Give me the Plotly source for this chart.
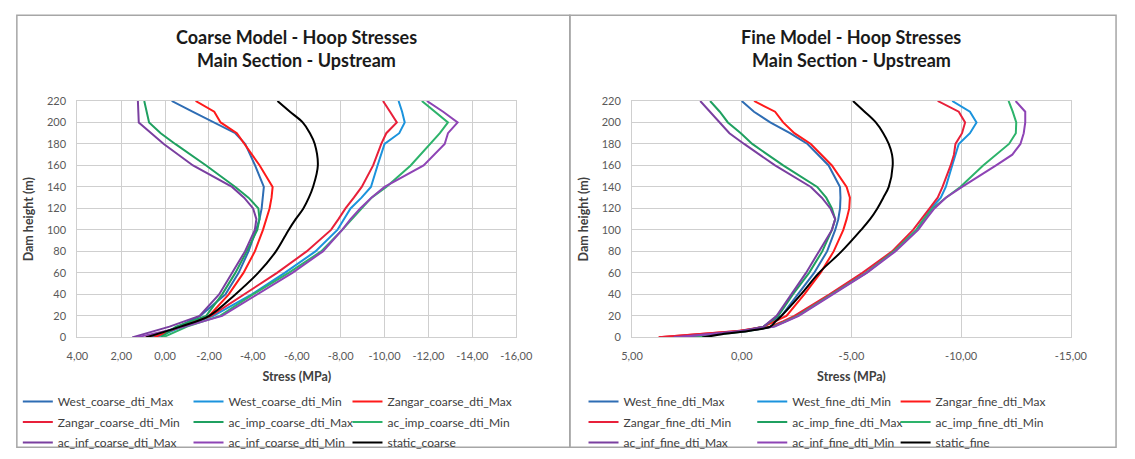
import plotly.graph_objects as go

FIG_W, FIG_H = 1135, 459
FONT = "Lato"

# ---------------- Coarse model (heights in m, stresses in MPa) ----------------
heights_coarse = [0, 10, 20, 40, 60, 80, 100, 110, 120, 130, 140, 160, 180, 190, 200, 210, 220]

west_coarse_max = [0.65, -0.6, -1.6, -2.75, -3.35, -3.8, -4.15, -4.3, -4.4, -4.45, -4.5, -4.1, -3.65, -3.2, -2.2, -1.25, -0.3]
west_coarse_min = [0.4, -0.8, -2.2, -3.95, -5.45, -6.85, -7.85, -8.15, -8.45, -8.95, -9.38, -9.68, -10.0, -10.67, -10.92, -10.8, -10.64]
zangar_coarse_max = [0.5, -0.7, -2.0, -2.9, -3.57, -4.09, -4.46, -4.6, -4.76, -4.85, -4.9, -4.31, -3.64, -3.27, -2.53, -2.24, -1.39]
zangar_coarse_min = [0.9, -0.8, -2.1, -3.6, -5.1, -6.45, -7.56, -7.9, -8.22, -8.6, -8.96, -9.48, -9.85, -10.08, -10.56, -10.25, -9.93]
acimp_coarse_max = [0.2, -0.5, -1.87, -2.6, -3.2, -3.72, -4.2, -4.3, -4.25, -3.8, -3.2, -1.87, -0.46, 0.2, 0.73, 0.85, 0.95]
acimp_coarse_min = [0.1, -1.0, -2.5, -4.0, -5.63, -7.11, -8.07, -8.5, -8.96, -9.41, -10.08, -11.19, -12.07, -12.52, -12.89, -12.3, -11.7]
acinf_coarse_max = [1.5, -0.2, -1.57, -2.46, -3.05, -3.64, -4.09, -4.16, -4.01, -3.6, -3.05, -1.27, 0.06, 0.65, 1.2, 1.22, 1.24]
acinf_coarse_min = [1.3, -0.9, -2.6, -4.2, -5.8, -7.19, -8.07, -8.45, -8.89, -9.4, -10.0, -11.78, -12.74, -12.89, -13.33, -12.67, -11.93]
static_coarse = [0.87, -0.7, -2.01, -3.2, -4.24, -5.05, -5.63, -5.95, -6.3, -6.55, -6.74, -6.96, -6.82, -6.6, -6.27, -5.69, -5.12]

# ---------------- Fine model ----------------
heights_fine = [0, 3, 6, 10, 15, 20, 40, 60, 80, 100, 110, 120, 130, 140, 160, 170, 180, 190, 200, 210, 220]

west_fine_max = [2.7, 1.3, -0.1, -1.0, -1.35, -1.81, -2.56, -3.3, -3.89, -4.26, -4.4, -4.48, -4.5, -4.48, -3.96, -3.5, -3.0, -2.2, -1.3, -0.56, 0.0]
west_fine_min = [2.7, 1.4, -0.2, -1.4, -2.0, -2.5, -4.05, -5.67, -6.93, -7.96, -8.3, -8.63, -9.07, -9.3, -9.59, -9.74, -9.89, -10.4, -10.7, -10.4, -9.59]
zangar_fine_max = [3.78, 2.0, 0.1, -1.0, -1.5, -2.04, -2.85, -3.59, -4.19, -4.63, -4.78, -4.9, -4.93, -4.78, -4.11, -3.65, -3.15, -2.4, -1.89, -1.52, -0.56]
zangar_fine_min = [3.78, 2.0, 0.2, -1.3, -1.9, -2.4, -4.0, -5.5, -6.85, -7.81, -8.2, -8.56, -8.93, -9.15, -9.52, -9.67, -9.74, -10.04, -10.18, -9.89, -8.93]
acimp_fine_max = [2.3, 1.1, -0.1, -1.0, -1.35, -1.67, -2.33, -3.07, -3.67, -4.11, -4.26, -4.11, -3.85, -3.44, -1.89, -1.2, -0.48, 0.04, 0.63, 1.0, 1.44]
acimp_fine_min = [2.3, 1.1, -0.3, -1.45, -2.0, -2.55, -4.1, -5.67, -6.93, -7.96, -8.3, -8.7, -9.3, -9.96, -11.0, -11.6, -12.18, -12.49, -12.51, -12.35, -12.16]
acinf_fine_max = [3.1, 1.6, 0.0, -1.0, -1.3, -1.59, -2.26, -2.93, -3.52, -4.11, -4.26, -4.04, -3.65, -3.15, -1.52, -0.8, -0.11, 0.56, 1.0, 1.44, 1.89]
acinf_fine_min = [3.1, 1.5, -0.2, -1.5, -2.05, -2.6, -4.15, -5.7, -7.0, -8.04, -8.4, -8.78, -9.3, -10.04, -11.59, -12.33, -12.7, -12.85, -12.92, -12.92, -12.48]
static_fine = [1.8, 0.9, -0.3, -1.3, -1.55, -1.81, -2.7, -3.52, -4.55, -5.44, -5.85, -6.18, -6.45, -6.7, -6.88, -6.85, -6.7, -6.45, -6.11, -5.6, -5.07]

# ---------------- Axis ticks ----------------
height_ticks = [0, 20, 40, 60, 80, 100, 120, 140, 160, 180, 200, 220]
coarse_ticks = [4, 2, 0, -2, -4, -6, -8, -10, -12, -14, -16]
coarse_tick_labels = ["4,00", "2,00", "0,00", "-2,00", "-4,00", "-6,00", "-8,00",
                      "-10,00", "-12,00", "-14,00", "-16,00"]
fine_ticks = [5, 0, -5, -10, -15]
fine_tick_labels = ["5,00", "0,00", "-5,00", "-10,00", "-15,00"]

# Series colours (West, Zangar, added-mass impulsive, added-mass infinite, static)
colors = {
    "west_max": "#2E6DB4", "west_min": "#1B93DD",
    "zangar_max": "#FF1A1A", "zangar_min": "#E8203A",
    "acimp_max": "#1FA060", "acimp_min": "#2DB36B",
    "acinf_max": "#7A3FA0", "acinf_min": "#8E44B5",
    "static": "#000000",
}


def px_x(p):
    return p / FIG_W


def px_y(p):
    return 1 - p / FIG_H


fig = go.Figure()

coarse_series = [
    ("West_coarse_dti_Max", west_coarse_max, "west_max"),
    ("West_coarse_dti_Min", west_coarse_min, "west_min"),
    ("Zangar_coarse_dti_Max", zangar_coarse_max, "zangar_max"),
    ("Zangar_coarse_dti_Min", zangar_coarse_min, "zangar_min"),
    ("ac_imp_coarse_dti_Max", acimp_coarse_max, "acimp_max"),
    ("ac_imp_coarse_dti_Min", acimp_coarse_min, "acimp_min"),
    ("ac_inf_coarse_dti_Max", acinf_coarse_max, "acinf_max"),
    ("ac_inf_coarse_dti_Min", acinf_coarse_min, "acinf_min"),
    ("static_coarse", static_coarse, "static"),
]
fine_series = [
    ("West_fine_dti_Max", west_fine_max, "west_max"),
    ("West_fine_dti_Min", west_fine_min, "west_min"),
    ("Zangar_fine_dti_Max", zangar_fine_max, "zangar_max"),
    ("Zangar_fine_dti_Min", zangar_fine_min, "zangar_min"),
    ("ac_imp_fine_dti_Max", acimp_fine_max, "acimp_max"),
    ("ac_imp_fine_dti_Min", acimp_fine_min, "acimp_min"),
    ("ac_inf_fine_dti_Max", acinf_fine_max, "acinf_max"),
    ("ac_inf_fine_dti_Min", acinf_fine_min, "acinf_min"),
    ("static_fine", static_fine, "static"),
]

# three column-legends per chart; entries fill row by row
legend_ids = ["legend", "legend2", "legend3", "legend4", "legend5", "legend6"]


def add_series(series, heights, xa, ya, legend_offset):
    for i, (name, vals, ckey) in enumerate(series):
        shape = "spline" if ckey == "static" else "linear"
        fig.add_trace(go.Scatter(
            x=vals, y=heights, name=name, mode="lines",
            line=dict(color=colors[ckey], width=2, shape=shape),
            xaxis=xa, yaxis=ya,
            legend=legend_ids[legend_offset + i % 3],
            legendgroup=name,
        ))


add_series(coarse_series, heights_coarse, "x", "y", 0)
add_series(fine_series, heights_fine, "x2", "y2", 3)

grid = "#CFCFCF"
tickfont = dict(family=FONT, size=11, color="#595959")
axtitle = dict(family=FONT, size=12.5, color="#404040")

ydom = [px_y(340), px_y(96.7)]
common_x = dict(showgrid=True, gridcolor=grid, gridwidth=1, zeroline=False,
                showline=True, linecolor=grid, mirror=True, ticks="",
                tickfont=tickfont, ticklabelstandoff=8)
common_y = dict(showgrid=True, gridcolor=grid, gridwidth=1, zeroline=False,
                showline=True, linecolor=grid, mirror=True, ticks="",
                tickfont=tickfont, range=[0, 220], tickmode="array",
                tickvals=height_ticks, ticktext=[str(v) for v in height_ticks],
                ticklabelstandoff=8)

fig.update_layout(
    xaxis=dict(common_x, domain=[px_x(68), px_x(518)], range=[4, -16], anchor="y",
               tickmode="array", tickvals=coarse_ticks, ticktext=coarse_tick_labels,
               title=dict(text="<b>Stress (MPa)</b>", font=axtitle, standoff=11)),
    yaxis=dict(common_y, domain=ydom, anchor="x",
               title=dict(text="<b>Dam height (m)</b>", font=axtitle, standoff=10)),
    xaxis2=dict(common_x, domain=[px_x(636.7), px_x(1086.7)], range=[5, -15], anchor="y2",
                tickmode="array", tickvals=fine_ticks, ticktext=fine_tick_labels,
                title=dict(text="<b>Stress (MPa)</b>", font=axtitle, standoff=11)),
    yaxis2=dict(common_y, domain=ydom, anchor="x2",
                title=dict(text="<b>Dam height (m)</b>", font=axtitle, standoff=10)),
)

# column legends
col_text_px = [57, 232, 395, 637, 810, 957]
leg_font = dict(family=FONT, size=12, color="#404040")
for lid, tx in zip(legend_ids, col_text_px):
    fig.update_layout({lid: dict(
        x=px_x(tx - 50), y=px_y(391), xanchor="left", yanchor="top",
        orientation="v", font=leg_font, bgcolor="rgba(0,0,0,0)",
        borderwidth=0, itemwidth=30, tracegroupgap=1.5,
    )})

# chart titles (two lines each)
title_font = dict(family=FONT, size=18, color="#1A1A1A")
chart_titles = [
    ((68 + 518) / 2, ["Coarse Model - Hoop Stresses", "Main Section - Upstream"]),
    ((636.7 + 1086.7) / 2, ["Fine Model - Hoop Stresses", "Main Section - Upstream"]),
]
for cx, lines in chart_titles:
    for ly, t in zip([31, 55], lines):
        fig.add_annotation(x=px_x(cx), y=px_y(ly), xref="paper", yref="paper",
                           text="<b>" + t + "</b>", showarrow=False, font=title_font,
                           xanchor="center", yanchor="middle")

# chart frames
frame = dict(type="rect", xref="paper", yref="paper",
             line=dict(color="#A6A6A6", width=1.5), fillcolor="rgba(0,0,0,0)", layer="below")
fig.add_shape(frame, x0=px_x(6), x1=px_x(573), y0=px_y(453), y1=px_y(8.5))
fig.add_shape(frame, x0=px_x(573), x1=px_x(1133), y0=px_y(453), y1=px_y(8.5))

fig.update_layout(
    width=FIG_W, height=FIG_H, autosize=False,
    margin=dict(l=0, r=0, t=0, b=0),
    paper_bgcolor="white", plot_bgcolor="white",
    font=dict(family=FONT),
    showlegend=True,
)

fig.write_html("out.html")
